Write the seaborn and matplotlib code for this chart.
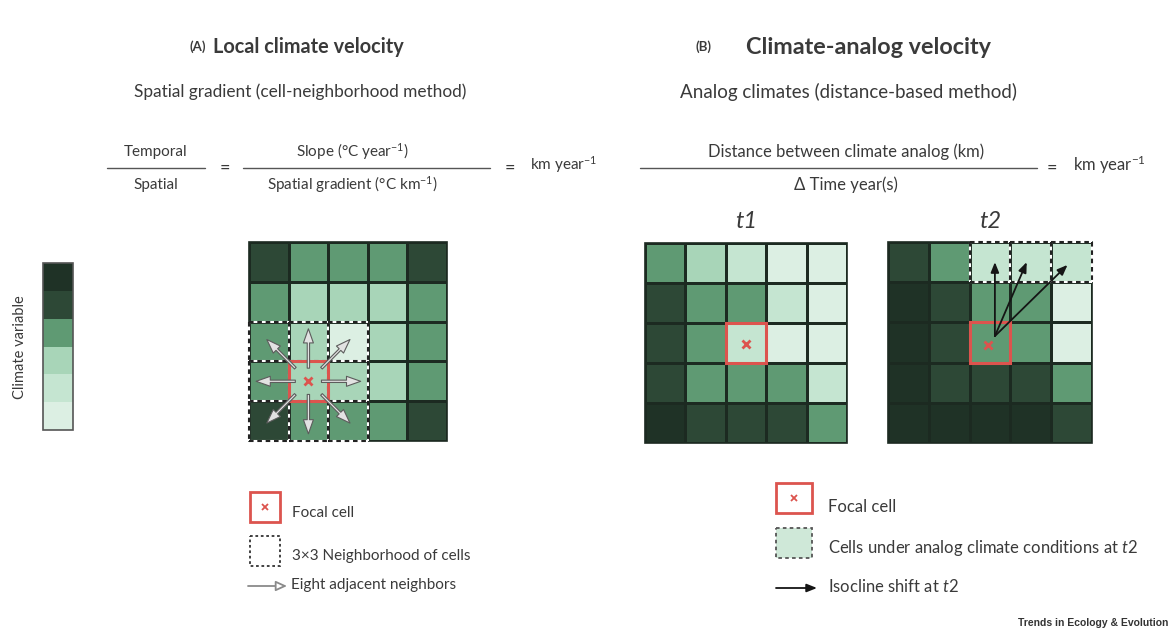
import numpy as np
import matplotlib
matplotlib.use("Agg")
import matplotlib.pyplot as plt
from matplotlib.colors import ListedColormap
from matplotlib.patches import Rectangle, FancyArrowPatch
import seaborn as sns

sns.set_theme(style="white")
plt.rcParams["font.family"] = ["Lato", "DejaVu Sans"]
plt.rcParams["mathtext.fontset"] = "custom"
plt.rcParams["mathtext.rm"] = "Lato"
plt.rcParams["mathtext.it"] = "Lato:italic"
plt.rcParams["mathtext.bf"] = "Lato:bold"

# Climate-variable classes, lightest (0) to darkest (5)
level_colors = ["#dcefe3", "#c5e5d1", "#a8d5b8", "#5f9a73", "#2d4836", "#1f3226"]
colorbar_levels = [5, 4, 3, 2, 1, 0]

# Panel A: local climate velocity grid
grid_local = [
    [4, 3, 3, 3, 4],
    [3, 2, 2, 2, 3],
    [3, 2, 0, 2, 3],
    [3, 2, 2, 2, 3],
    [4, 3, 3, 3, 4],
]
# Panel B: climate-analog grids at two times
grid_t1 = [
    [3, 2, 1, 0, 0],
    [4, 3, 3, 1, 0],
    [4, 3, 1, 0, 0],
    [4, 3, 3, 3, 1],
    [5, 4, 4, 4, 3],
]
grid_t2 = [
    [4, 3, 1, 1, 1],
    [5, 4, 3, 3, 0],
    [5, 4, 3, 3, 0],
    [5, 4, 4, 4, 3],
    [5, 5, 5, 5, 4],
]
focal_local = (1, 3)          # (col, row)
focal_analog = (2, 2)
neighborhood = [(c, r) for r in (2, 3, 4) for c in (0, 1, 2)]
analog_cells = [(2, 0), (3, 0), (4, 0)]
# isocline shift vectors, in grid units
shift_origin = (2.62, 2.34)
shift_targets = [(2.62, 0.5), (3.4, 0.5), (4.4, 0.57)]

W, H = 1171, 637
TXT = "#3a3a3a"
RED = "#dc544e"
LINE = "#1c2a21"
cmap = ListedColormap(level_colors)

fig = plt.figure(figsize=(W / 100, H / 100), dpi=100)
fig.patch.set_facecolor("white")


def px_axes(x0, y0, x1, y1):
    return fig.add_axes([x0 / W, 1 - y1 / H, (x1 - x0) / W, (y1 - y0) / H])


def draw_grid(ax, values):
    sns.heatmap(np.array(values), ax=ax, cmap=cmap, vmin=-0.5, vmax=5.5,
                cbar=False, linewidths=1.0, linecolor=LINE,
                xticklabels=False, yticklabels=False, square=False)
    ax.add_patch(Rectangle((0, 0), 5, 5, fill=False, ec=LINE, lw=1.2,
                           clip_on=False, zorder=3))


def dashed_seg(ax, x0, y0, x1, y1, lw=1.5, color="#222222"):
    ax.plot([x0, x1], [y0, y1], color="white", lw=lw, clip_on=False, zorder=4,
            solid_capstyle="butt")
    ax.plot([x0, x1], [y0, y1], color=color, lw=lw, clip_on=False, zorder=4,
            dashes=(2.2, 1.8))


def dashed_cells(ax, cells):
    segs = set()
    for c, r in cells:
        segs.update({(c, r, c + 1, r), (c, r + 1, c + 1, r + 1),
                     (c, r, c, r + 1), (c + 1, r, c + 1, r + 1)})
    for s in segs:
        dashed_seg(ax, *s)


def focal(ax, cell, mark):
    c, r = cell
    ax.add_patch(Rectangle((c, r), 1, 1, fill=False, ec=RED, lw=2.2,
                           clip_on=False, zorder=6))
    ax.plot(*mark, marker="x", color=RED, ms=6, mew=2, zorder=7)


def open_arrow(ax, p0, p1):
    ax.add_patch(FancyArrowPatch(
        p0, p1, arrowstyle="simple,head_length=0.85,head_width=0.6,tail_width=0.14",
        mutation_scale=12, lw=0.8, ec="#5c5c5c", fc="#e2e2e2",
        zorder=8, clip_on=False, shrinkA=0, shrinkB=0))


def solid_arrow(ax, p0, p1, ms=11, lw=1.3):
    ax.add_patch(FancyArrowPatch(
        p0, p1, arrowstyle="-|>,head_length=0.55,head_width=0.22",
        mutation_scale=ms, lw=lw, ec="#151515", fc="#151515",
        zorder=8, clip_on=False, shrinkA=0, shrinkB=0))


# ---- colour key ----
ax_key = px_axes(43, 263, 73, 430)
sns.heatmap(np.array(colorbar_levels).reshape(-1, 1), ax=ax_key, cmap=cmap,
            vmin=-0.5, vmax=5.5, cbar=False, linewidths=0,
            xticklabels=False, yticklabels=False)
ax_key.add_patch(Rectangle((0, 0), 1, 6, fill=False, ec="#555555", lw=1.2,
                           clip_on=False, zorder=3))

# ---- panel A grid ----
ax_a = px_axes(249, 242, 447, 441)
draw_grid(ax_a, grid_local)
dashed_cells(ax_a, neighborhood)
focal(ax_a, focal_local, (1.5, 3.5))
cx, cy = focal_local[0] + 0.5, focal_local[1] + 0.5
for dx, dy in [(0, -1), (0, 1), (-1, 0), (1, 0), (1, -1), (-1, -1), (1, 1), (-1, 1)]:
    reach = 1.32 if (dx == 0 or dy == 0) else 1.05
    open_arrow(ax_a, (cx + 0.33 * dx, cy + 0.33 * dy), (cx + reach * dx, cy + reach * dy))

# ---- panel B grids ----
ax_t1 = px_axes(645, 243, 847, 443)
draw_grid(ax_t1, grid_t1)
focal(ax_t1, focal_analog, (2.5, 2.52))

ax_t2 = px_axes(888, 242, 1092, 443)
draw_grid(ax_t2, grid_t2)
dashed_cells(ax_t2, analog_cells)
focal(ax_t2, focal_analog, (2.45, 2.57))
for tgt in shift_targets:
    solid_arrow(ax_t2, shift_origin, tgt)

# ---- text overlay (pixel coordinates) ----
ov = fig.add_axes([0, 0, 1, 1])
ov.set_xlim(0, W)
ov.set_ylim(H, 0)
ov.axis("off")
ov.patch.set_alpha(0)
ov.set_zorder(10)

ov.text(206, 47, "(A)", ha="right", va="center", fontsize=9.5, fontweight="bold", color=TXT)
ov.text(213, 47, "Local climate velocity", ha="left", va="center", fontsize=14.3,
        fontweight="bold", color=TXT)
ov.text(712, 47, "(B)", ha="right", va="center", fontsize=9.5, fontweight="bold", color=TXT)
ov.text(746, 47, "Climate-analog velocity", ha="left", va="center", fontsize=16.8,
        fontweight="bold", color=TXT)
ov.text(300, 92, "Spatial gradient (cell-neighborhood method)", ha="center", va="center",
        fontsize=12.4, color=TXT)
ov.text(848, 92, "Analog climates (distance-based method)", ha="center", va="center",
        fontsize=13.5, color=TXT)

fa = 11
fb = 12
# formula A
ov.plot([107, 205], [168, 168], color="#555555", lw=1)
ov.text(156, 152, "Temporal", ha="center", va="center", fontsize=fa, color=TXT)
ov.text(156, 185, "Spatial", ha="center", va="center", fontsize=fa, color=TXT)
ov.text(225, 168, "=", ha="center", va="center", fontsize=13, color=TXT)
ov.plot([243, 490], [168, 168], color="#555555", lw=1)
ov.text(352, 152, "Slope (°C year$^{-1}$)", ha="center", va="center", fontsize=fa, color=TXT)
ov.text(352, 185, "Spatial gradient (°C km$^{-1}$)", ha="center", va="center", fontsize=fa, color=TXT)
ov.text(510, 168, "=", ha="center", va="center", fontsize=13, color=TXT)
ov.text(530, 165, "km year$^{-1}$", ha="left", va="center", fontsize=fa, color=TXT)

# formula B
ov.plot([640, 1037], [168, 168], color="#555555", lw=1)
ov.text(846, 152, "Distance between climate analog (km)", ha="center", va="center",
        fontsize=fb, color=TXT)
ov.text(846, 185, "Δ Time year(s)", ha="center", va="center", fontsize=fb, color=TXT)
ov.text(1052, 168, "=", ha="center", va="center", fontsize=13, color=TXT)
ov.text(1073, 165, "km year$^{-1}$", ha="left", va="center", fontsize=fb, color=TXT)

ov.text(746, 222, "t1", ha="center", va="center", fontsize=17, style="italic", color=TXT)
ov.text(990, 222, "t2", ha="center", va="center", fontsize=17, style="italic", color=TXT)

ov.text(20, 347, "Climate variable", ha="center", va="center", rotation=90,
        fontsize=10.5, color=TXT)

# legend A
ov.add_patch(Rectangle((250, 492), 30, 30, fill=False, ec=RED, lw=2))
ov.plot(265, 507, marker="x", color=RED, ms=4, mew=1.3)
ov.text(292, 513, "Focal cell", ha="left", va="center", fontsize=fa, color=TXT)
ov.add_patch(Rectangle((250, 536), 30, 30, fill=False, ec="#333333", lw=1.3, ls=(0, (1.5, 1.5))))
ov.text(292, 556, "3×3 Neighborhood of cells", ha="left", va="center", fontsize=fa, color=TXT)
ov.add_patch(FancyArrowPatch((248, 586), (287, 586),
                             arrowstyle="-|>,head_length=0.55,head_width=0.25",
                             mutation_scale=12, lw=1.3, ec="#8a8a8a", fc="white",
                             shrinkA=0, shrinkB=0))
ov.text(291, 585, "Eight adjacent neighbors", ha="left", va="center", fontsize=fa, color=TXT)

# legend B
ov.add_patch(Rectangle((776, 483), 36, 30, fill=False, ec=RED, lw=2))
ov.plot(794, 498, marker="x", color=RED, ms=4, mew=1.3)
ov.text(828, 507, "Focal cell", ha="left", va="center", fontsize=fb, color=TXT)
ov.add_patch(Rectangle((776, 528), 36, 30, fc="#cfe8d8", ec="#555555", lw=1.3,
                       ls=(0, (2, 1.8))))
ov.text(828, 548, "Cells under analog climate conditions at $\\mathit{t2}$", ha="left",
        va="center", fontsize=fb, color=TXT)
ov.add_patch(FancyArrowPatch((776, 588), (817, 588),
                             arrowstyle="-|>,head_length=0.55,head_width=0.22",
                             mutation_scale=11, lw=1.3, ec="#151515", fc="#151515",
                             shrinkA=0, shrinkB=0))
ov.text(828, 587, "Isocline shift at $\\mathit{t2}$", ha="left", va="center",
        fontsize=fb, color=TXT)

ov.text(1168, 623, "Trends in Ecology & Evolution", ha="right", va="center",
        fontsize=7.5, fontweight="bold", family="Liberation Sans", color="#333333")

fig.savefig("out.png", dpi=100, facecolor="white")
